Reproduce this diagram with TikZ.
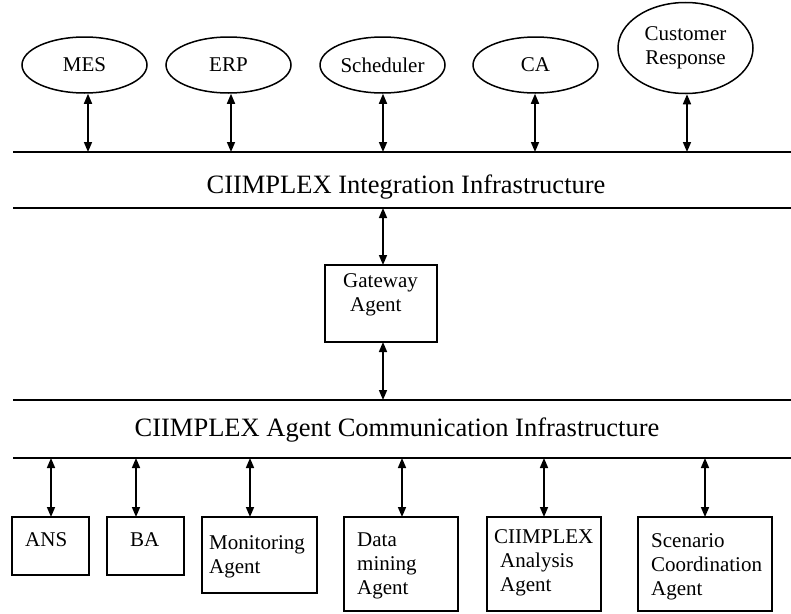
\documentclass[tikz,border=0pt]{standalone}
\usepackage{fontspec}
\setmainfont{Liberation Serif}
\usetikzlibrary{shapes.geometric,arrows.meta}
\begin{document}
\begin{tikzpicture}[x=1pt,y=-1pt,
  bus/.style={line width=2.4pt},
  sysell/.style={ellipse, draw, line width=1.5pt, inner sep=0pt, minimum width=125pt, minimum height=56pt, font=\fontsize{21}{24}\selectfont, align=center},
  agentbox/.style={draw, line width=2.2pt, rectangle, anchor=north west, inner sep=0pt, outer sep=0pt},
  boxtext/.style={anchor=north west, inner sep=0pt, align=left, font=\fontsize{21}{24}\selectfont},
  title/.style={anchor=base, inner sep=0pt, font=\fontsize{26.5}{30}\selectfont},
  biarrow/.style={line width=1.6pt, {Triangle[length=10pt,width=8pt]}-{Triangle[length=10pt,width=8pt]}}
]
\useasboundingbox (0,0) rectangle (791,613);

% upper systems
\node[sysell] (mes) at (84.5,65) {MES};
\node[sysell] (erp) at (228.5,65) {ERP};
\node[sysell] (sch) at (382.5,65) {Scheduler};
\node[sysell] (ca) at (535.5,65) {CA};
\node[sysell, minimum width=135pt, minimum height=91pt] (cr) at (685.5,48) {Customer\\Response};

% bus lines
\coordinate (b1w) at (13,152); \coordinate (b1e) at (791,152);
\coordinate (b2w) at (13,208); \coordinate (b2e) at (791,208);
\coordinate (b3w) at (13,400); \coordinate (b3e) at (791,400);
\coordinate (b4w) at (13,458); \coordinate (b4e) at (791,458);
\draw[bus] (b1w) -- (b1e);
\draw[bus] (b2w) -- (b2e);
\draw[bus] (b3w) -- (b3e);
\draw[bus] (b4w) -- (b4e);

% titles
\node[title] (t1) at (406,193) {CIIMPLEX Integration Infrastructure};
\node[title] (t2) at (397,436) {CIIMPLEX Agent Communication Infrastructure};

% top arrows
\coordinate (pmes) at (88,152);
\coordinate (perp) at (231,152);
\coordinate (psch) at (383,152);
\coordinate (pca) at (535,152);
\coordinate (pcr) at (687,152);
\draw[biarrow] (pmes |- mes.south) -- (pmes);
\draw[biarrow] (perp |- erp.south) -- (perp);
\draw[biarrow] (psch |- sch.south) -- (psch);
\draw[biarrow] (pca |- ca.south) -- (pca);
\draw[biarrow] (pcr |- cr.south) -- (pcr);

% gateway
\node[agentbox, minimum width=112pt, minimum height=77pt] (gw) at (325,265) {};
\node[boxtext] (gwt) at ([shift={(18,5.2)}]gw.north west) {\strut Gateway\\\hspace*{7pt}Agent};
\coordinate (pgw1) at (383,208);
\coordinate (pgw2) at (383,400);
\draw[biarrow] (pgw1) -- (pgw1 |- gw.north);
\draw[biarrow] (pgw2 |- gw.south) -- (pgw2);

% bottom agents
\node[agentbox, minimum width=77pt, minimum height=58pt] (ans) at (12,517) {};
\node[agentbox, minimum width=77pt, minimum height=58pt] (ba) at (107,517) {};
\node[agentbox, minimum width=115pt, minimum height=76pt] (mon) at (202,517) {};
\node[agentbox, minimum width=114pt, minimum height=94pt] (dm) at (344,517) {};
\node[agentbox, minimum width=114pt, minimum height=94pt] (ana) at (487,517) {};
\node[agentbox, minimum width=134pt, minimum height=94pt] (scn) at (638,517) {};

\node[boxtext] (anst) at ([shift={(13,12.2)}]ans.north west) {\strut ANS};
\node[boxtext] (bat) at ([shift={(23,12.2)}]ba.north west) {\strut BA};
\node[boxtext] (mont) at ([shift={(7,15.5)}]mon.north west) {\strut Monitoring\\Agent};
\node[boxtext] (dmt) at ([shift={(13,12.2)}]dm.north west) {\strut Data\\mining\\Agent};
\node[boxtext] (anat) at ([shift={(7,9.2)}]ana.north west) {\strut CIIMPLEX\\\hspace*{6pt}Analysis\\\hspace*{6pt}Agent};
\node[boxtext] (scnt) at ([shift={(13,13.2)}]scn.north west) {\strut Scenario\\Coordination\\Agent};

\coordinate (pans) at (51,458);
\coordinate (pba) at (136,458);
\coordinate (pmon) at (250,458);
\coordinate (pdm) at (402,458);
\coordinate (pana) at (544,458);
\coordinate (pscn) at (705,458);
\draw[biarrow] (pans) -- (pans |- ans.north);
\draw[biarrow] (pba) -- (pba |- ba.north);
\draw[biarrow] (pmon) -- (pmon |- mon.north);
\draw[biarrow] (pdm) -- (pdm |- dm.north);
\draw[biarrow] (pana) -- (pana |- ana.north);
\draw[biarrow] (pscn) -- (pscn |- scn.north);
\end{tikzpicture}
\end{document}
